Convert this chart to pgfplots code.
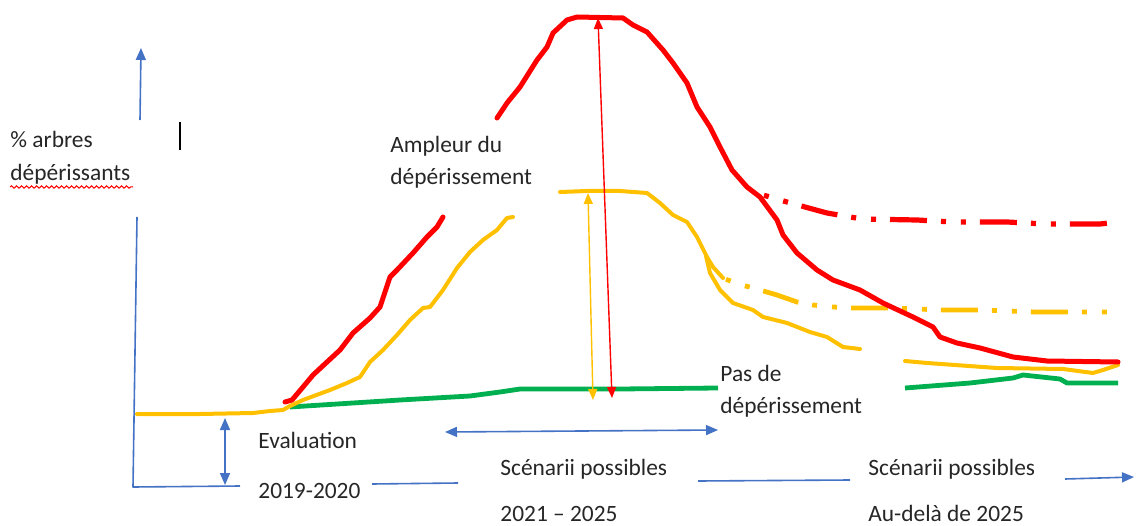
\documentclass[border=0pt]{standalone}
\usepackage{fontspec}
\setmainfont{Carlito}
\usepackage{pgfplots}
\pgfplotsset{compat=1.18}
\usetikzlibrary{arrows.meta,decorations.pathmorphing}
\definecolor{cred}{HTML}{FF0000}
\definecolor{corange}{HTML}{FFC000}
\definecolor{cgreen}{HTML}{00B050}
\definecolor{cblue}{HTML}{4472C4}
\definecolor{ctext}{HTML}{262626}
\tikzset{txt/.style={font=\fontsize{11.7}{14}\selectfont, text=ctext, anchor=base west, inner sep=0pt}}
\begin{document}
\begin{tikzpicture}
\begin{axis}[width=569pt,height=262.5pt,scale only axis,
  xmin=0,xmax=1138,ymin=0,ymax=525,axis lines=none,clip=false,
  every axis plot/.append style={line join=round}]
% invisible frame so the page is the whole axis area
\addplot[draw=none] coordinates {(0,0) (1138,525)};
% ---- axes (blue) ----
\addplot[cblue, line width=0.8pt, -{Triangle[width=5pt,length=6pt]}] coordinates {(140,405) (141,477)};
\addplot[cblue, line width=0.8pt] coordinates {(137,308) (133,38) (240,39)};
\addplot[cblue, line width=0.8pt] coordinates {(372,41) (458,42)};
\addplot[cblue, line width=0.8pt] coordinates {(698,44) (850,45)};
\addplot[cblue, line width=0.8pt, -{Triangle[width=5pt,length=6pt]}] coordinates {(1065,46) (1134,48)};
\addplot[cblue, line width=0.8pt, {Triangle[width=5pt,length=6pt]}-{Triangle[width=5pt,length=6pt]}] coordinates {(225,107) (225,40)};
\addplot[cblue, line width=0.8pt, {Triangle[width=5pt,length=6pt]}-{Triangle[width=5pt,length=6pt]}] coordinates {(445,93) (718,95)};
% black cursor bar
\addplot[black, line width=0.6pt] coordinates {(180,403) (180,375)};
% ---- green ----
\addplot[cgreen, line width=2.4pt] coordinates {(290,118) (400,125) (470,129) (500,133) (520,136) (620,136) (718,137)};
\addplot[cgreen, line width=2.4pt] coordinates {(905,137) (970,142) (1013,147) (1023,150) (1060,146) (1067,142) (1118,142)};
% ---- orange ----
\addplot[corange, line width=2pt, line cap=round] coordinates {(137,111) (200,111) (253,112) (270,114) (283,115) (290,119) (303,125) (330,135) (347,142) (360,148) (370,163) (383,175) (397,190) (410,205) (423,217) (430,218) (443,235) (457,257) (470,273) (483,285) (497,295) (507,307) (513,308)};
\addplot[corange, line width=2pt, line cap=round] coordinates {(560,333) (587,334) (620,334) (647,332) (660,322) (673,310) (687,303) (697,288) (707,268) (713,258) (723,247)};
\addplot[corange, line width=2pt, line cap=round] coordinates {(706,269) (710,252) (720,235) (733,222) (753,215) (763,208) (787,202) (810,193) (827,188) (843,178) (860,176)};
\addplot[corange, line width=2pt, line cap=round] coordinates {(905,164) (927,162) (997,157) (1063,156) (1093,152) (1103,155) (1118,160)};
\addplot[corange, line width=2.4pt, line cap=butt, dash pattern=on 18.5pt off 7pt on 2.5pt off 7.5pt on 2.5pt off 7pt, dash phase=25pt] coordinates {(725,246) (742,240) (760,235) (777,230) (797,223) (813,220) (833,218) (852,217) (890,217) (943,215) (982,215) (1035,213) (1073,213) (1112,213)};
% ---- red ----
\addplot[cred, line width=2.5pt, line cap=round] coordinates {(285,123) (292,125) (303,138) (313,150) (327,163) (340,175) (353,192) (370,207) (380,218) (390,248) (397,255) (413,272) (427,288) (437,298) (443,308)};
\addplot[cred, line width=2.5pt, line cap=round] coordinates {(497,407) (507,422) (520,438) (537,465) (547,478) (553,492) (567,505) (577,508) (623,507) (633,500) (647,493) (663,475) (673,462) (687,442) (697,418) (710,398) (720,378) (732,355) (747,338) (760,328) (777,305) (783,290) (797,272) (817,255) (833,245) (860,235) (883,222) (913,208) (933,198) (940,188) (957,182) (980,177) (1013,168) (1047,164) (1118,163)};
\addplot[cred, line width=2.6pt, line cap=butt, dash pattern=on 18.5pt off 7pt on 2.5pt off 7.5pt on 2.5pt off 7pt, dash phase=25pt] coordinates {(763,330) (787,323) (805,318) (827,312) (862,306) (917,305) (953,303) (1007,303) (1045,301) (1100,301) (1118,303)};
% ---- amplitude arrows ----
\addplot[corange, line width=0.7pt, {Triangle[width=4.5pt,length=5.5pt]}-{Triangle[width=4.5pt,length=5.5pt]}] coordinates {(588,332) (593,125)};
\addplot[cred, line width=0.7pt, {Triangle[width=4.5pt,length=5.5pt]}-{Triangle[width=4.5pt,length=5.5pt]}] coordinates {(598,507) (612,127)};
% ---- texts ----
\node[txt] at (axis cs:10,377) {\% arbres};
\node[txt] at (axis cs:10,344) {dépérissants};
\draw[cred, line width=0.5pt, decorate, decoration={snake,amplitude=0.6pt,segment length=2.5pt}] (axis cs:10,338) -- (axis cs:133,338);
\node[txt] at (axis cs:390,372) {Ampleur du};
\node[txt] at (axis cs:390,340) {dépérissement};
\node[txt] at (axis cs:720,144) {Pas de};
\node[txt] at (axis cs:720,112) {dépérissement};
\node[txt] at (axis cs:258,77) {Evaluation};
\node[txt] at (axis cs:258,27) {2019-2020};
\node[txt] at (axis cs:500,50) {Scénarii possibles};
\node[txt] at (axis cs:500,4) {2021 – 2025};
\node[txt] at (axis cs:868,50) {Scénarii possibles};
\node[txt] at (axis cs:868,4) {Au-delà de 2025};
\end{axis}
\end{tikzpicture}
\end{document}
